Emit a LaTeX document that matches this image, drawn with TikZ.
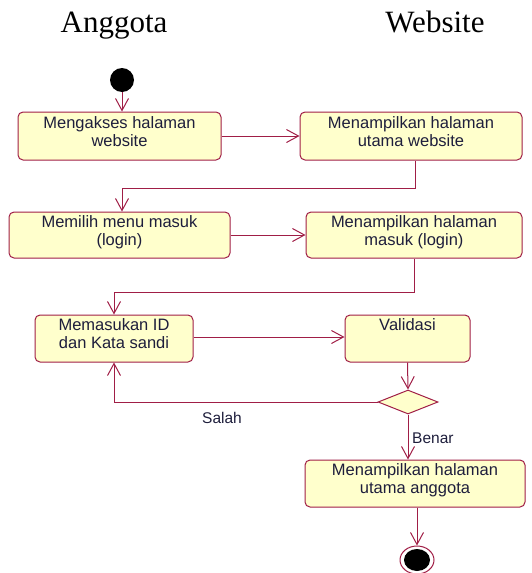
\documentclass[tikz,border=0pt]{standalone}
\usepackage{fontspec}
\setmainfont{Liberation Sans}
\newfontfamily\titlefont{Liberation Serif}
\usetikzlibrary{arrows.meta,shapes.geometric}
\definecolor{umlborder}{RGB}{160,30,70}
\definecolor{umlfill}{RGB}{255,255,204}
\definecolor{umltext}{RGB}{30,30,60}
\tikzset{
  actbox/.style={draw=umlborder, fill=umlfill, rounded corners=5pt, line width=1pt, inner sep=0pt},
  acttext/.style={anchor=north, inner sep=0pt, align=center, text=umltext, font=\fontsize{16.5}{18}\selectfont},
  flow/.style={draw=umlborder, line width=1pt, -{Straight Barb[length=12pt,width=13pt,line width=1pt]}},
  lanetitle/.style={anchor=base, inner sep=0pt, font=\titlefont\fontsize{31}{34}\selectfont},
  guard/.style={inner sep=0pt, text=umltext, font=\fontsize{15.5}{17}\selectfont},
}
\begin{document}
\begin{tikzpicture}[x=1pt,y=-1pt]
\useasboundingbox (0,0) rectangle (531,573);
\node[lanetitle] (t1) at (114,32) {Anggota};
\node[lanetitle] (t2) at (435,32) {Website};

\node[circle, fill=black, minimum size=24pt, inner sep=0pt] (start) at (122,80) {};

\node[actbox, minimum width=203pt, minimum height=48pt] (b1) at (119.5,136) {};
\node[acttext] (l1) at ([yshift=-5pt]b1.north) {Mengakses halaman\\website};
\node[actbox, minimum width=222pt, minimum height=48pt] (b2) at (411,136) {};
\node[acttext] (l2) at ([yshift=-5pt]b2.north) {Menampilkan halaman\\utama website};

\node[actbox, minimum width=221pt, minimum height=46pt] (b3) at (119.5,235) {};
\node[acttext] (l3) at ([yshift=-4pt]b3.north) {Memilih menu masuk\\(login)};
\node[actbox, minimum width=216pt, minimum height=46pt] (b4) at (414,235) {};
\node[acttext] (l4) at ([yshift=-4pt]b4.north) {Menampilkan halaman\\masuk (login)};

\node[actbox, minimum width=158pt, minimum height=47pt] (b5) at (114,338.5) {};
\node[acttext] (l5) at ([yshift=-4pt]b5.north) {Memasukan ID\\dan Kata sandi};
\node[actbox, minimum width=125pt, minimum height=47pt] (b6) at (407.5,338.5) {};
\node[acttext] (l6) at ([yshift=-4pt]b6.north) {Validasi};

\node[diamond, draw=umlborder, fill=umlfill, line width=1pt, minimum width=60pt, minimum height=24pt, inner sep=0pt] (d) at (408,402) {};

\node[actbox, minimum width=220pt, minimum height=47pt] (b7) at (415,483.5) {};
\node[acttext] (l7) at ([yshift=-4pt]b7.north) {Menampilkan halaman\\utama anggota};

\node[ellipse, draw=umlborder, fill=white, line width=1pt, minimum width=34pt, minimum height=28pt, inner sep=0pt] (end) at (417,560) {};
\node[ellipse, fill=black, minimum width=26pt, minimum height=22pt, inner sep=0pt] (endin) at (end.center) {};

\draw[flow] (start) -- (start |- b1.north);
\draw[flow] (b1.east) -- (b2.west);
\draw[flow] ([xshift=4pt]b2.south) -- ++(0,28) -| ([xshift=2.5pt]b3.north);
\draw[flow] (b3.east) -- (b4.west);
\draw[flow] (b4.south) -- ++(0,34) -| (b5.north);
\draw[flow] ([yshift=1.5pt]b5.east) -- ([yshift=1.5pt]b6.west);
\draw[flow] (b6.south) -- (d.north);
\draw[flow] (d.west) -| (b5.south);
\draw[flow] (d.south) -- (d.south |- b7.north);
\draw[flow] (end |- b7.south) -- (end.north);

\node[guard] (salah) at (222,418) {Salah};
\node[guard, anchor=west] (benar) at (412,438) {Benar};
\end{tikzpicture}
\end{document}
